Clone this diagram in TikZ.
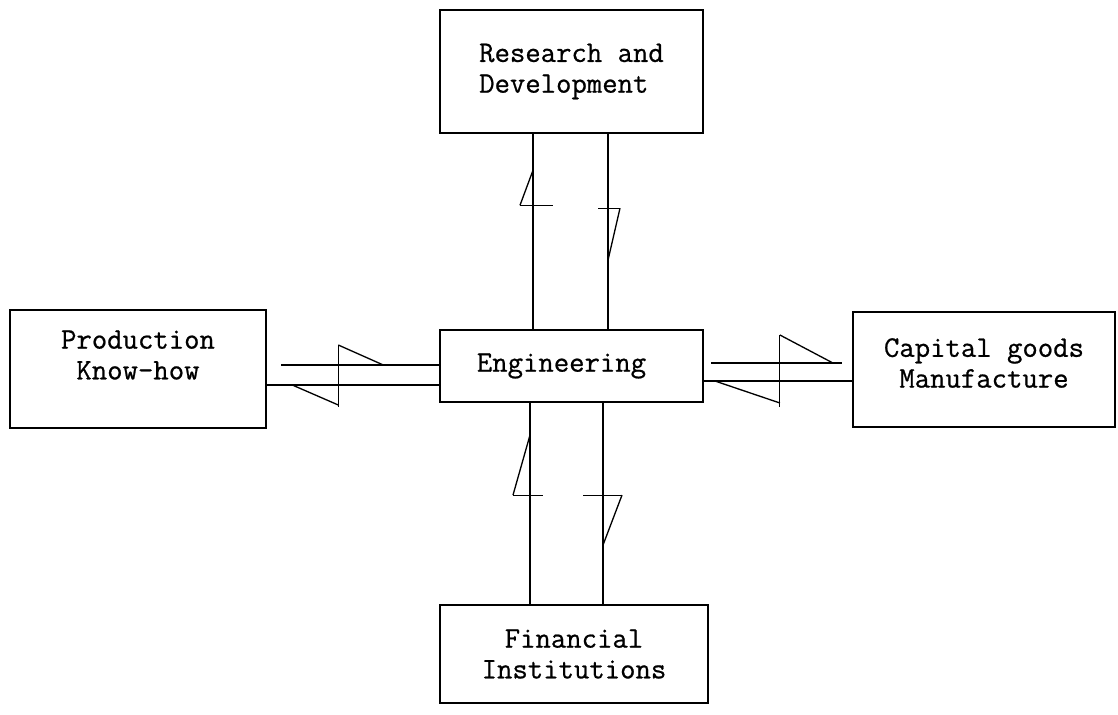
\documentclass[tikz,border=0pt]{standalone}
\usepackage{fontspec}
\usepackage{tikz}
\usetikzlibrary{positioning, calc}
\newfontfamily\typefont[FakeBold=0.7]{Latin Modern Mono}

\tikzset{
  block/.style={draw, line width=1.6pt, minimum width=5.26cm, align=center,
    inner sep=0pt, font=\fontsize{17}{17.5}\selectfont\typefont},
  txt/.style={align=center, inner sep=0pt, font=\fontsize{17}{17.5}\selectfont\typefont},
  link/.style={line width=0.75pt},
  barb/.style={line width=0.75pt},
  cross/.style={line width=0.55pt}
}

\begin{document}
\begin{tikzpicture}
  \useasboundingbox (0,0) rectangle (22.36,-14.30);
  % Blocks
  \node[block, align=left, minimum height=2.46cm] (rd) at (11.43,-1.43) {Research and\\Development};
  \node[block, minimum height=1.44cm] (eng) at (11.43,-7.32) {Engineering\hspace{0.4cm}};
  \node[block, minimum width=5.12cm, minimum height=2.36cm] (prod) at (2.76,-7.38) {};
  \node[txt] at ([yshift=0.28cm]prod.center) {Production\\Know-how};
  \node[block, minimum width=5.24cm, minimum height=2.30cm] (cap) at (19.68,-7.39) {};
  \node[txt] at ([yshift=0.13cm]cap.center) {Capital goods\\Manufacture};
  \node[block, minimum width=5.36cm, minimum height=1.96cm] (fin) at (11.48,-13.08) {Financial\\Institutions};

  % Production -- Engineering
  \draw[link, shorten <=0.28cm] ([yshift=0.02cm]eng.west -| prod.east) -- coordinate[pos=0.414] (pu) ([yshift=0.02cm]eng.west);
  \draw[link] ([yshift=-0.38cm]eng.west) -- coordinate[pos=0.586] (pl) ([yshift=-0.38cm]eng.west -| prod.east);
  \draw[barb] (pu) ++(0,0.40) -- ++(0.90,-0.40);
  \draw[cross] (pu) ++(0,0.40) -- ++(0,-1.24);
  \draw[barb] (pl) ++(-0.92,0) -- ++(0.92,-0.40);

  % Engineering -- Capital goods
  \draw[link, shorten <=0.14cm, shorten >=0.2cm] ([yshift=0.06cm]eng.east) -- coordinate[pos=0.513] (cu) ([yshift=0.06cm]eng.east -| cap.west);
  \draw[link] ([yshift=-0.30cm]eng.east -| cap.west) -- coordinate[pos=0.487] (cl) ([yshift=-0.30cm]eng.east);
  \draw[barb] (cu) ++(0,0.56) -- ++(1.06,-0.56);
  \draw[cross] (cu) ++(0,0.56) -- ++(0,-1.44);
  \draw[barb] (cl) ++(-1.30,0) -- ++(1.30,-0.44);

  % Research and Development -- Engineering
  \draw[link] ([xshift=-0.77cm]eng.north) -- coordinate[pos=0.635] (ru) ([xshift=-0.77cm]eng.north |- rd.south);
  \draw[cross] (ru) ++(-0.26,0) -- ++(0.66,0);
  \draw[barb] (ru) ++(-0.26,0) -- ++(0.26,0.70);
  \draw[link] ([xshift=0.73cm]eng.north |- rd.south) -- coordinate[pos=0.38] (rl) ([xshift=0.73cm]eng.north);
  \draw[cross] (rl) ++(-0.20,0) -- ++(0.44,0);
  \draw[barb] (rl) ++(0.24,0) -- ++(-0.24,-1.04);

  % Financial Institutions -- Engineering
  \draw[link] ([xshift=-0.83cm]eng.south |- fin.north) -- coordinate[pos=0.542] (fu) ([xshift=-0.83cm]eng.south);
  \draw[cross] (fu) ++(-0.34,0) -- ++(0.60,0);
  \draw[barb] (fu) ++(-0.34,0) -- ++(0.34,1.20);
  \draw[link] ([xshift=0.63cm]eng.south) -- coordinate[pos=0.458] (fl) ([xshift=0.63cm]eng.south |- fin.north);
  \draw[cross] (fl) ++(-0.40,0) -- ++(0.78,0);
  \draw[barb] (fl) ++(0.38,0) -- ++(-0.38,-1.0);
\end{tikzpicture}
\end{document}
